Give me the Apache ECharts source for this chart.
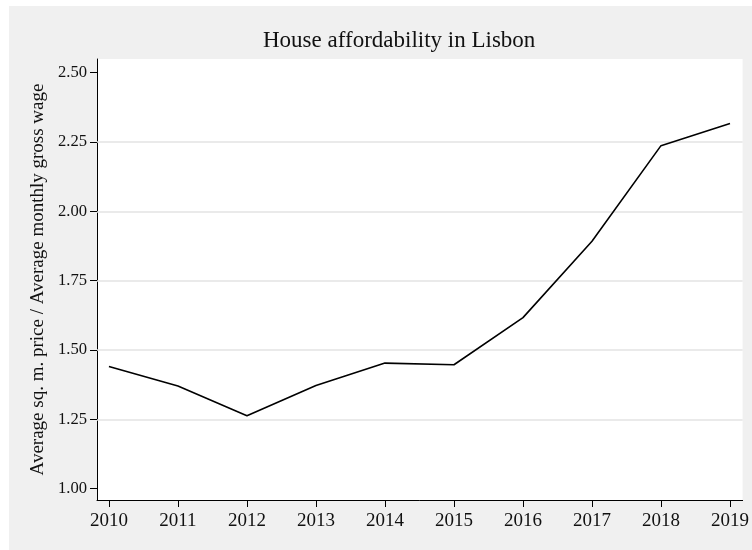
<!DOCTYPE html>
<html lang="en">
<head>
    <meta charset="UTF-8">
    <title>House affordability in Lisbon</title>
    <script src="https://cdn.jsdelivr.net/npm/echarts@6/dist/echarts.min.js"></script>
    <style>
        html, body { margin: 0; padding: 0; background: #fff; }
    </style>
</head>
<body>
<div id="lineChart" style="position: absolute; left: 9px; top: 6px; width: 743px; height: 544px;"></div>

<script>
    // data
    let years = [2010, 2011, 2012, 2013, 2014, 2015, 2016, 2017, 2018, 2019];
    let ratio = [1.441, 1.370, 1.263, 1.372, 1.453, 1.447, 1.617, 1.892, 2.237, 2.317];
    let yTicks = [1.00, 1.25, 1.50, 1.75, 2.00, 2.25, 2.50];
    let gridValues = [1.25, 1.50, 1.75, 2.00, 2.25];

    let lineChart = echarts.init(document.getElementById('lineChart'));
    let serif = 'Liberation Serif';

    let lineOption = {
        backgroundColor: '#f0f0f0',
        animation: false,
        title: {
            text: 'House affordability in Lisbon',
            left: 254,
            top: 23,
            padding: 0,
            textStyle: {
                fontFamily: serif,
                fontWeight: 'normal',
                fontSize: 23,
                color: '#111'
            }
        },
        grid: {
            left: 88,
            top: 53,
            right: 6,
            bottom: 50,
            show: true,
            backgroundColor: '#fff',
            borderWidth: 0
        },
        xAxis: {
            type: 'value',
            min: 2009.827,
            max: 2019.183,
            axisLine: {show: true, onZero: false, lineStyle: {color: '#000', width: 1}},
            axisTick: {show: true, length: 7, customValues: years, lineStyle: {color: '#000'}},
            axisLabel: {
                customValues: years,
                margin: 12,
                fontFamily: serif,
                fontSize: 19,
                color: '#111',
                formatter: function (v) { return String(v); }
            },
            splitLine: {show: false}
        },
        yAxis: {
            type: 'value',
            min: 0.9593,
            max: 2.5494,
            name: 'Average sq. m. price / Average monthly gross wage',
            nameLocation: 'middle',
            nameGap: 43,
            nameTextStyle: {fontFamily: serif, fontSize: 19, color: '#111'},
            axisLine: {show: true, onZero: false, lineStyle: {color: '#000', width: 1}},
            axisTick: {show: true, length: 7, customValues: yTicks, lineStyle: {color: '#000'}},
            axisLabel: {
                customValues: yTicks,
                margin: 10,
                fontFamily: serif,
                fontSize: 16.6,
                color: '#111',
                formatter: function (v) { return v.toFixed(2); }
            },
            splitLine: {show: false}
        },
        series: [{
            type: 'line',
            z: 3,
            data: years.map(function (y, i) { return [y, ratio[i]]; }),
            symbol: 'none',
            lineStyle: {color: '#000', width: 1.6},
            markLine: {
                silent: true,
                z: 1,
                symbol: 'none',
                label: {show: false},
                lineStyle: {color: '#e3e3e3', width: 1.5, type: 'solid'},
                data: gridValues.map(function (v) { return {yAxis: v}; })
            }
        }]
    };
    lineChart.setOption(lineOption);
</script>
</body>
</html>
